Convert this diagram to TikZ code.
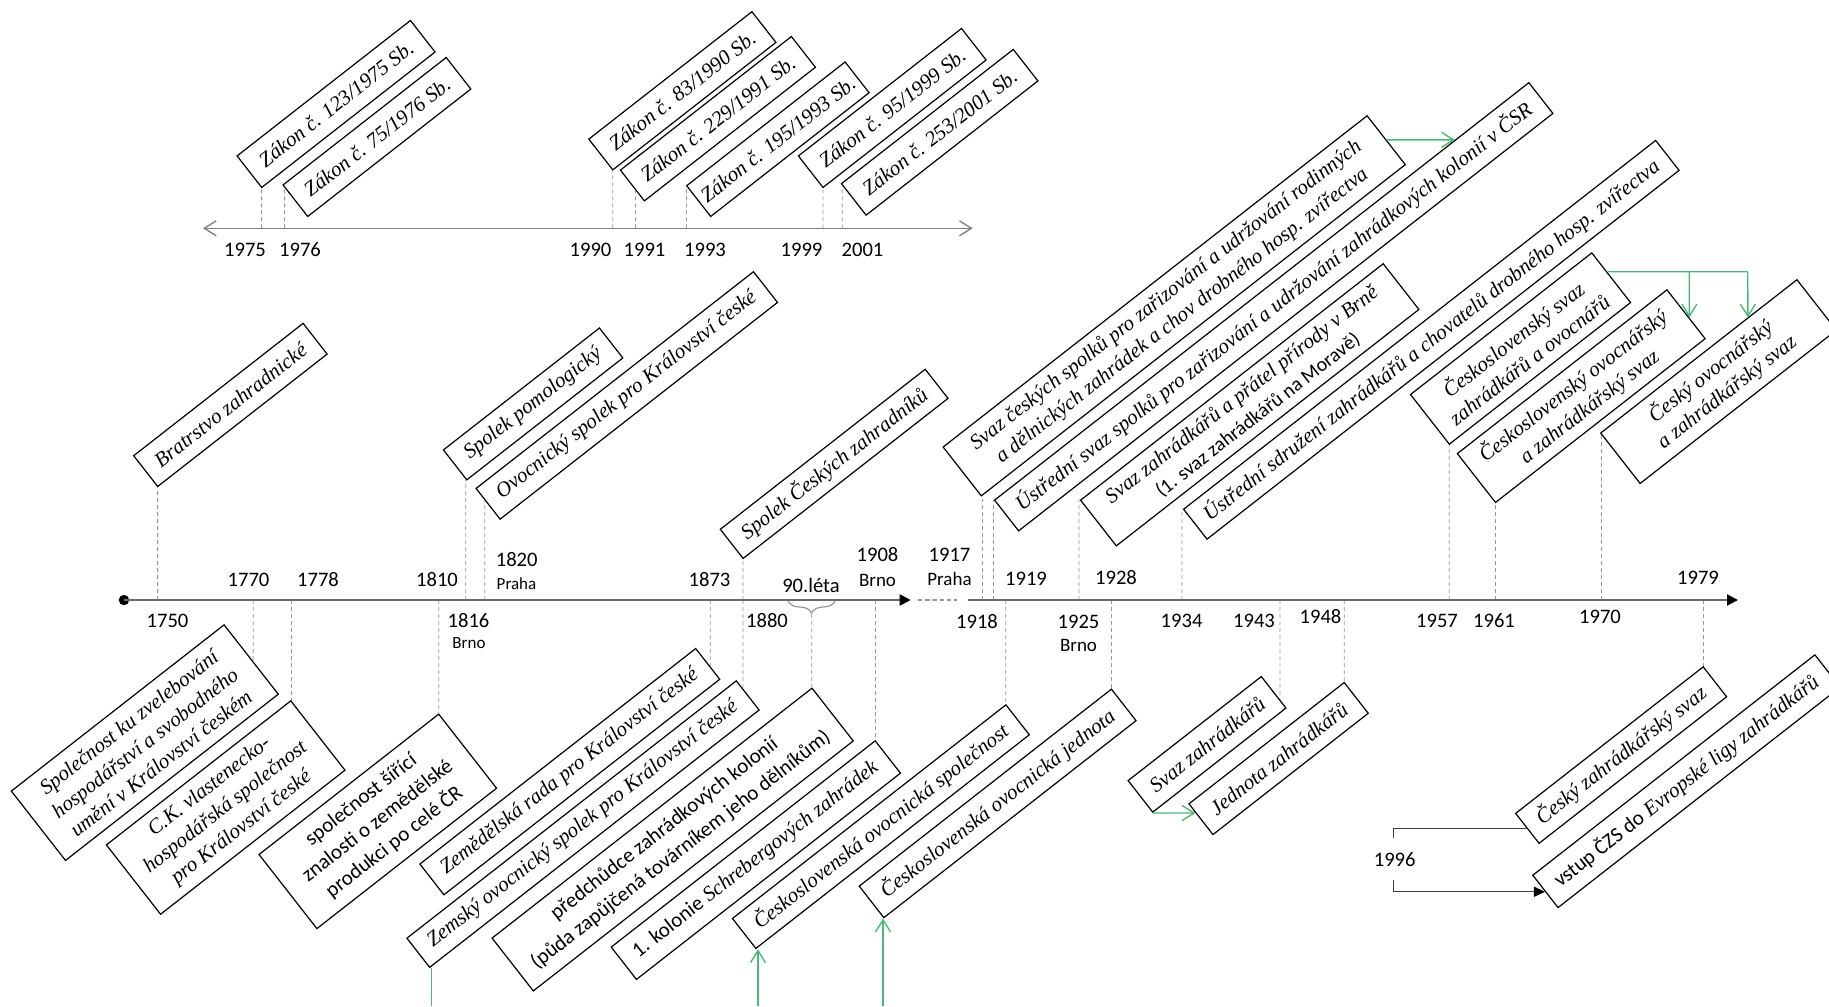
\documentclass[tikz,border=0pt]{standalone}
\usepackage{fontspec}
\setmainfont{Liberation Serif}
\newfontfamily\tnrfont{Liberation Serif}
\newfontfamily\calsans{Carlito}
\usetikzlibrary{arrows.meta,decorations.pathreplacing,backgrounds}
\definecolor{grn}{RGB}{72,186,118}
\definecolor{axisgray}{RGB}{105,105,105}
\definecolor{tickgray}{RGB}{150,150,150}
\definecolor{topaxis}{RGB}{125,125,125}
\tikzset{
  box/.style={draw, fill=white, line width=0.6pt, rotate=38, inner sep=0.5pt, align=center,
    font=\tnrfont\fontsize{10.5}{13}\selectfont\itshape},
  sansbox/.style={font=\calsans\fontsize{10.5}{13.5}\selectfont},
  sz/.style 2 args={minimum width=#1pt, minimum height=#2pt},
  yr/.style={font=\calsans\fontsize{10.3}{12}\selectfont, inner sep=0pt},
  city/.style={font=\calsans\fontsize{8.5}{10}\selectfont, inner sep=0pt},
  cityb/.style={font=\calsans\fontsize{9.5}{11}\selectfont, inner sep=0pt},
  tick/.style={draw=tickgray, line width=0.4pt, dash pattern=on 2pt off 1.5pt},
  gline/.style={draw=grn, line width=0.7pt},
  garrow/.style={draw=grn, line width=0.7pt, -{Straight Barb[length=6pt,width=7.5pt]}},
  mainaxis/.style={draw=axisgray, line width=1pt},
  tipblack/.style={-{Triangle[length=5.5pt,width=5.5pt,color=black]}},
  conn/.style={draw=black!75, line width=0.6pt},
}
\newcommand\tup[3]{\draw[tick] (#1,#2) -- (intersection of #1,#2--#1,0 and #3.north west--#3.south west);}
\newcommand\tdn[3]{\draw[tick] (#1,#2) -- (intersection of #1,#2--#1,1006 and #3.north east--#3.south east);}
\begin{document}
\begin{tikzpicture}[x=0.5pt,y=-0.5pt]
\useasboundingbox (0,0) rectangle (1829,1006);

% ---------- top (legislation) timeline ----------
\coordinate (ta) at (203,228.3);
\coordinate (tb) at (972.7,228.3);
\draw[draw=topaxis, line width=0.65pt, {Straight Barb[length=6pt,width=7.5pt]}-{Straight Barb[length=6pt,width=7.5pt]}] (ta) -- (tb);

\node[box, sz={110}{20}, anchor=south west] (z123) at (261.6,188.3) {Zákon č. 123/1975 Sb.};
\node[box, sz={103.5}{20}, anchor=south west] (z75) at (307.6,217.3) {Zákon č. 75/1976 Sb.};
\node[box, sz={103.5}{19.5}, anchor=south west] (z83) at (612.7,170.7) {Zákon č. 83/1990 Sb.};
\node[box, sz={108.5}{19.5}, anchor=south west] (z229) at (644.3,201.7) {Zákon č. 229/1991 Sb.};
\node[box, sz={100.5}{19.5}, anchor=south west] (z195) at (710.6,217.3) {Zákon č. 195/1993 Sb.};
\node[box, sz={103.5}{20}, anchor=south west] (z95) at (822.9,188.3) {Zákon č. 95/1999 Sb.};
\node[box, sz={109}{20}, anchor=south west] (z253) at (866,216) {Zákon č. 253/2001 Sb.};

\node[yr] (y1975) at (245,250) {1975};
\node[yr] (y1976) at (300,250) {1976};
\node[yr] (y1990) at (590.5,250) {1990};
\node[yr] (y1991) at (644.5,250) {1991};
\node[yr] (y1993) at (705,250) {1993};
\node[yr] (y1999) at (801.5,250) {1999};
\node[yr] (y2001) at (862.5,250) {2001};

% ---------- main timeline ----------
\node[circle, fill=black, inner sep=0pt, minimum size=5.2pt] (start) at (124,600) {};
\coordinate (e1) at (910.7,600);
\coordinate (d1) at (918,600);
\coordinate (d2) at (957,600);
\coordinate (s2) at (968,600);
\coordinate (e2) at (1738,600);
\draw[mainaxis, tipblack] (start.center) -- (e1);
\draw[draw=tickgray, line width=1pt, dash pattern=on 2.2pt off 1.4pt] (d1) -- (d2);
\draw[mainaxis, tipblack] (s2) -- (e2);

% boxes above the axis
\node[box, sz={107.5}{19.5}, anchor=south west] (brat) at (157.6,487.3) {Bratrstvo zahradnické};
\node[box, sz={99}{19}, anchor=south west] (pom) at (466.7,480.7) {Spolek pomologický};
\node[box, sz={176}{19.5}, anchor=south west] (ovo) at (500,520) {Ovocnický spolek pro Království české};
\node[box, sz={130}{18.5}, anchor=south west] (sczh) at (743,559.3) {Spolek Českých zahradníků};
\node[box, sz={269}{31}, anchor=south west] (sc) at (981.2,496.7) {Svaz českých spolků pro zařizování a udržování rodinných\\a dělnických zahrádek a chov drobného hosp. zvířectva};
\node[box, sz={339}{19.5}, anchor=south west] (us) at (1018.5,531.7) {Ústřední svaz spolků pro zařizování a udržování zahrádkových kolonií v ČSR};
\node[box, sz={192}{29}, anchor=south west] (szp) at (1116.2,546.7) {Svaz zahrádkářů a přátel přírody v Brně\\{\calsans\upshape\fontsize{10}{12}\selectfont (1. svaz zahrádkářů na Moravě)}};
\node[box, sz={299.5}{19}, anchor=south west] (usd) at (1206.9,540) {Ústřední sdružení zahrádkářů a chovatelů drobného hosp. zvířectva};
\node[box, sz={115}{31.5}, anchor=south west] (css) at (1449.2,445) {Československý svaz\\zahrádkářů a ovocnářů};
\node[box, sz={133}{31}, anchor=south west] (cov) at (1495.4,503.3) {Československý ovocnářský\\a zahrádkářský svaz};
\node[box, sz={124.5}{32}, anchor=south west] (ceo) at (1640,484.3) {Český ovocnářský\\a zahrádkářský svaz};

% boxes below the axis
\node[box, sz={135}{44}, anchor=north east] (skz) at (224.2,624) {Společnost ku zvelebování\\hospodářství a svobodného\\umění v Království českém};
\node[box, sz={117}{44}, anchor=north east] (ck) at (290.9,700) {C.K. vlastenecko-\\hospodářská společnost\\pro Království české};
\node[box, sansbox, sz={114}{47}, anchor=north east] (sss) at (438.8,713.3) {společnost šířící\\znalosti o zemědělské\\produkci po celé ČR};
\node[box, sz={175}{19.5}, anchor=north east] (zr) at (695.8,647.7) {Zemědělská rada pro Království české};
\node[box, sz={209}{18.5}, anchor=north east] (zem) at (736.4,680) {Zemský ovocnický spolek pro Království české};
\node[box, sansbox, sz={203}{33.5}, anchor=north east] (pch) at (812.1,687.3) {předchůdce zahrádkových kolonií\\(půda zapůjčená továrníkem jeho dělníkům)};
\node[box, sz={167.5}{20.5}, anchor=north east] (kol) at (875.3,740) {{\calsans\upshape 1. kolonie} Schrebergových zahrádek};
\node[box, sz={173.5}{19}, anchor=north east] (cos) at (1006,704) {Československá ovocnická společnost};
\node[box, sz={160}{20}, anchor=north east] (coj) at (1111.5,688.3) {Československá ovocnická jednota};
\node[box, sz={84.5}{20}, anchor=north east] (svz) at (1261.4,675.7) {Svaz zahrádkářů};
\node[box, sz={98.5}{19.5}, anchor=north east] (jed) at (1344.3,681.7) {Jednota zahrádkářů};
\node[box, sz={119}{19}, anchor=north east] (czs) at (1703.3,666) {Český zahrádkářský svaz};
\node[box, sz={179}{20.5}, anchor=north east] (vstup) at (1815,654) {{\calsans\upshape vstup ČZS do} Evropské ligy zahrádkářů};

% year labels above the axis
\node[yr] (l1770) at (248.5,580) {1770};
\node[yr] (l1778) at (318,580) {1778};
\node[yr] (l1810) at (437,580) {1810};
\node[yr] (l1820) at (516.7,560) {1820};
\node[city] (p1820) at (516.5,583.3) {Praha};
\node[yr] (l1873) at (709.5,580) {1873};
\node[yr] (l90) at (811,585) {90.léta};
\node[yr] (l1908) at (877.5,555) {1908};
\node[cityb] (b1908) at (877.5,580) {Brno};
\node[yr] (l1917) at (949.5,555) {1917};
\node[cityb] (p1917) at (949.5,578.6) {Praha};
\node[yr] (l1919) at (1026,578.5) {1919};
\node[yr] (l1928) at (1116,577.5) {1928};
\node[yr] (l1979) at (1698,577.5) {1979};
% year labels below the axis
\node[yr] (l1750) at (167.5,621) {1750};
\node[yr] (l1816) at (468.5,621) {1816};
\node[city] (b1816) at (469,643.3) {Brno};
\node[yr] (l1880) at (767,620.5) {1880};
\node[yr] (l1918) at (977,621.5) {1918};
\node[yr] (l1925) at (1078.5,621.5) {1925};
\node[cityb] (b1925) at (1078.5,645.5) {Brno};
\node[yr] (l1934) at (1181.6,620.6) {1934};
\node[yr] (l1943) at (1254,620.6) {1943};
\node[yr] (l1948) at (1320.5,617) {1948};
\node[yr] (l1957) at (1437,620.6) {1957};
\node[yr] (l1961) at (1494,620.6) {1961};
\node[yr] (l1970) at (1600,617) {1970};

% 90. leta brace
\coordinate (br1) at (788,601);
\coordinate (br2) at (835,601);
\coordinate (brtip) at (811.5,614);
\draw[draw=tickgray, line width=0.6pt, decorate, decoration={brace, mirror, amplitude=6pt}] (br1) -- (br2);

% ---------- dashed guide lines ----------
\begin{scope}[on background layer]
\tup{261.6}{228.3}{z123}
\tup{284.6}{228.3}{z75}
\tup{612.7}{228.3}{z83}
\tup{635.6}{228.3}{z229}
\tup{686.5}{228.3}{z195}
\tup{822.9}{228.3}{z95}
\tup{842.2}{228.3}{z253}

\tup{157.6}{600}{brat}
\tup{465.8}{600}{pom}
\tup{484.8}{600}{ovo}
\tup{743}{600}{sczh}
\tup{982.7}{600}{sc}
\tup{993.5}{600}{us}
\tup{1079}{600}{szp}
\tup{1182}{600}{usd}
\tup{1449.2}{600}{css}
\tup{1495.4}{600}{cov}
\tup{1601}{600}{ceo}

\tdn{253.3}{600}{skz}
\tdn{291.5}{600}{ck}
\tdn{438.8}{600}{sss}
\tdn{710.3}{600}{zr}
\tdn{743}{600}{zem}
\tdn{811.8}{614}{pch}
\tdn{875.5}{600}{kol}
\tdn{1005.8}{600}{cos}
\tdn{1111.5}{600}{coj}
\tdn{1280}{600}{svz}
\tdn{1344.3}{600}{jed}
\tdn{1703.5}{600}{czs}
\end{scope}

% ---------- green connectors ----------
\coordinate (sch) at ([xshift=20pt]sc.east);
\draw[garrow] (sc.east) -- (intersection of sc.east--sch and us.north west--us.north east);

\coordinate (gB) at (1689.3,271.7);
\coordinate (gA) at (1747.7,271.7);
\coordinate (gBd) at (1689.3,400);
\coordinate (gAd) at (1747.7,400);
\draw[gline] (intersection of gA--gB and css.north east--css.south east) -- (gA);
\draw[garrow] (gB) -- (intersection of gB--gBd and cov.north east--cov.south east);
\draw[garrow] (gA) -- (intersection of gA--gAd and ceo.north west--ceo.north east);

\coordinate (svzh) at ([xshift=20pt]svz.south west);
\draw[garrow] (svz.south west) -- (intersection of svz.south west--svzh and jed.north west--jed.south west);

\coordinate (g1) at (431.5,1006);
\coordinate (g2) at (758,1006);
\coordinate (g3) at (883,1006);
\draw[gline] (g1) -- (g1 |- zem.south west);
\draw[garrow] (g2) -- (g2 |- cos.south west);
\draw[garrow] (g3) -- (g3 |- coj.south west);

% ---------- 1996 connector ----------
\coordinate (k1) at (1393.5,838);
\coordinate (k2) at (1393.5,880);
\node[yr] (l1996) at (1394.7,860) {1996};
\draw[conn] (czs.west) -| (k1);
\draw[conn, -{Triangle[length=5.5pt,width=5pt,color=black]}] (k2) |- (vstup.west);
\end{tikzpicture}
\end{document}
